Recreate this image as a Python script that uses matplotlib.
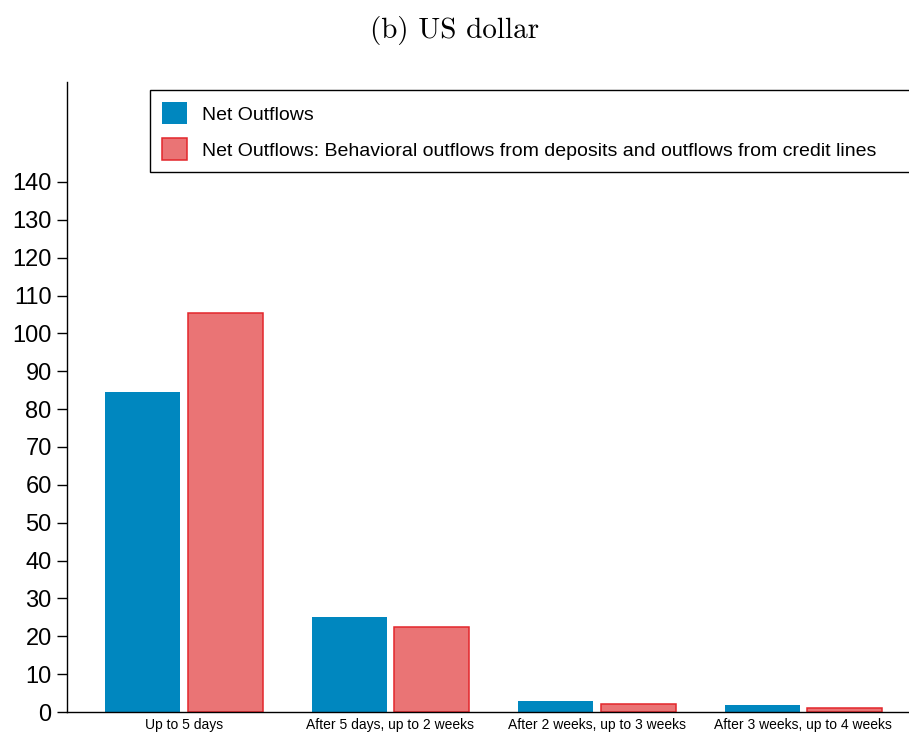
import numpy as np
import matplotlib
matplotlib.use('Agg')
from matplotlib import pyplot as plt

# data
categories = ['Up to 5 days', 'After 5 days, up to 2 weeks',
              'After 2 weeks, up to 3 weeks', 'After 3 weeks, up to 4 weeks']
net_outflows = [84.5, 25.1, 2.9, 1.8]
net_outflows_behav = [105.4, 22.4, 2.2, 1.1]
series_labels = ['Net Outflows',
                 'Net Outflows: Behavioral outflows from deposits and outflows from credit lines']
y_ticks = list(range(0, 150, 10))

plt.rcParams['font.family'] = ['Liberation Sans', 'DejaVu Sans']

fig = plt.figure(figsize=(9.09, 7.36), dpi=100)
ax = fig.add_axes([0.0737, 0.0326, 0.93, 0.856])

x = np.arange(len(categories))
width = 0.364
offset = 0.2

ax.bar(x - offset, net_outflows, width, color='#0087bf', label=series_labels[0], zorder=2)
ax.bar(x + offset, net_outflows_behav, width, color='#ea7475', edgecolor='#e3262b',
       linewidth=1.1, label=series_labels[1], zorder=2)

ax.set_xlim(-0.567, 3.528)
ax.set_ylim(0, 166.4)
ax.set_yticks(y_ticks)
ax.tick_params(axis='y', labelsize=17, length=7, width=1, direction='out', pad=4)
ax.set_xticks(x)
ax.set_xticklabels(categories, fontsize=10)
ax.tick_params(axis='x', length=0, pad=4)

for side in ['top', 'right']:
    ax.spines[side].set_visible(False)
ax.spines['left'].set_linewidth(1)
ax.spines['bottom'].set_linewidth(1)

leg = ax.legend(loc='upper left', bbox_to_anchor=(0.0986, 0.0, 0.91, 0.987), mode='expand',
                fontsize=14, frameon=True, fancybox=False, framealpha=1,
                handlelength=1.3, handleheight=1.4, handletextpad=0.75,
                borderpad=0.6, labelspacing=0.7, borderaxespad=0)
leg.get_frame().set_edgecolor('black')
leg.get_frame().set_linewidth(1)

fig.text(0.5, 0.958, '(b) US dollar', ha='center', va='center', fontsize=21,
         family=['cmr10', 'DejaVu Serif'])

fig.savefig('out.png', dpi=100)
